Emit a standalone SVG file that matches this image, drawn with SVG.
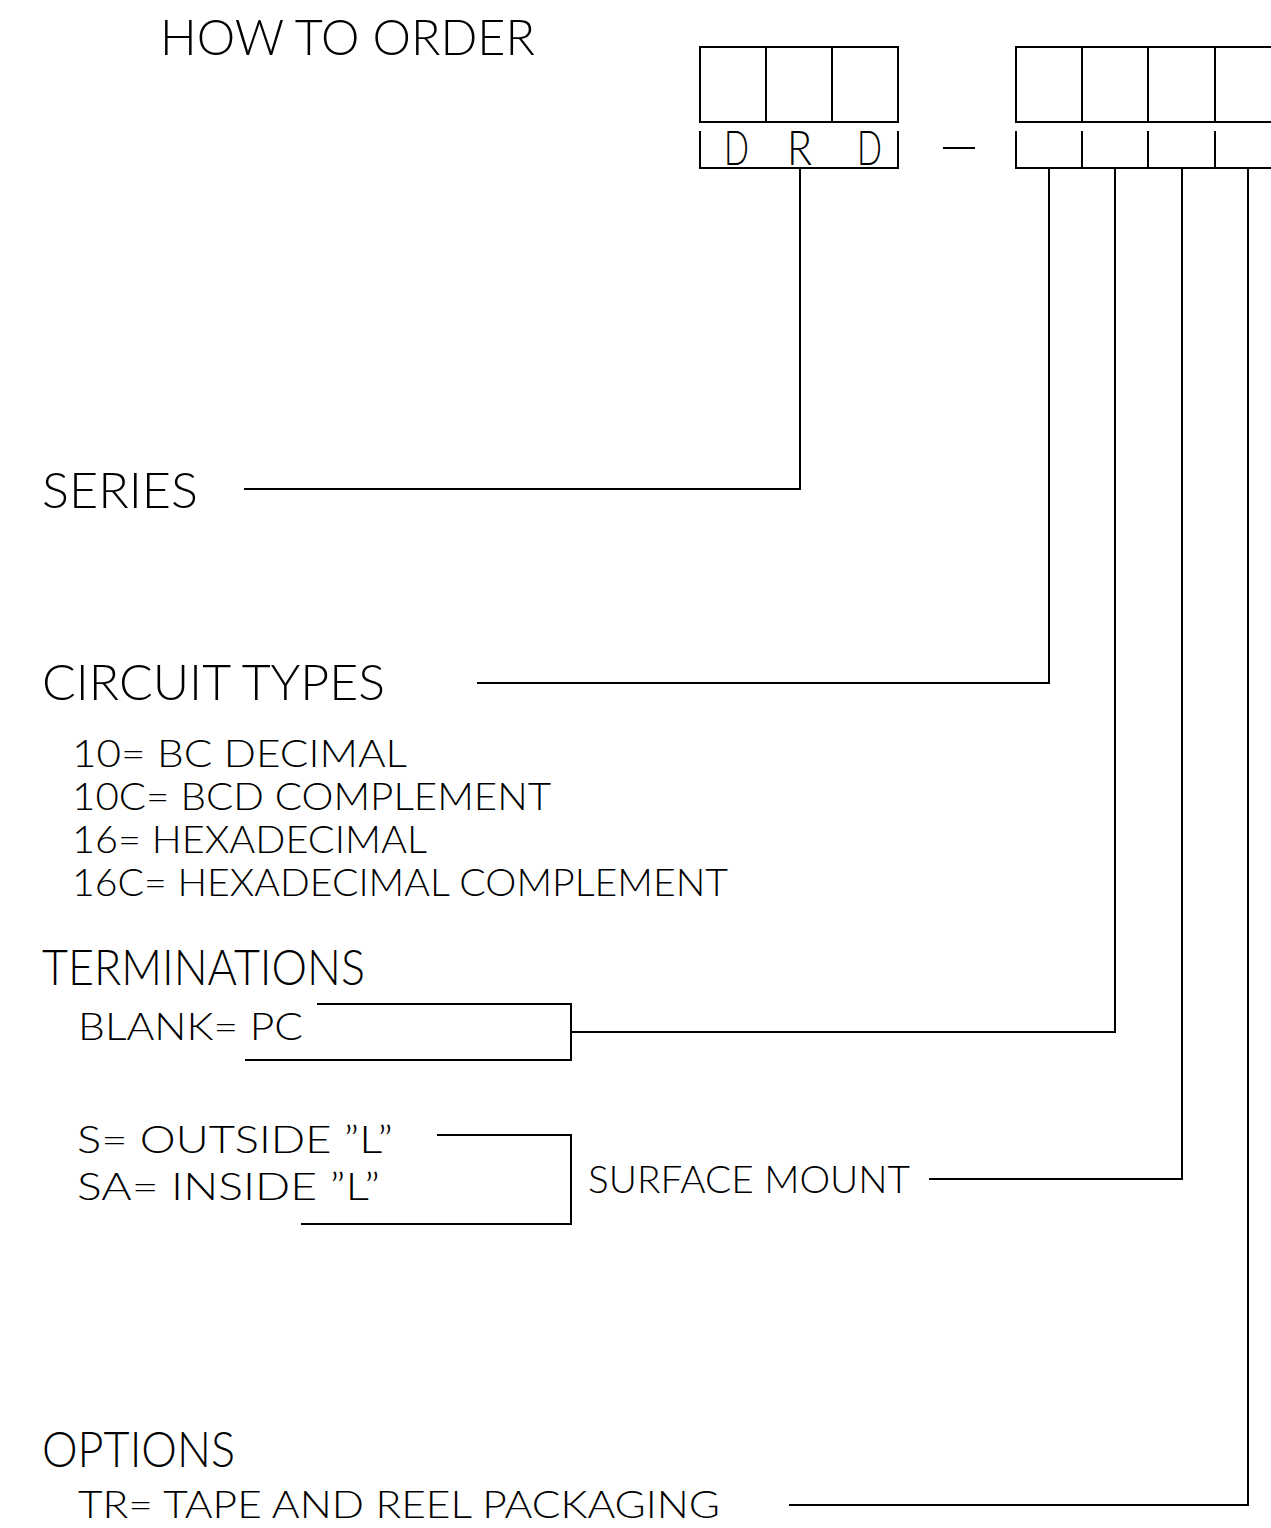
<svg xmlns="http://www.w3.org/2000/svg" width="1271" height="1528" viewBox="0 0 1271 1528">
<style>
.ln{stroke:#000;stroke-width:2;fill:none;stroke-linecap:square}
.t{font-family:Lato,"Liberation Sans",Arial,sans-serif;font-weight:300;fill:#000}
.big{font-size:49px}
.sm{font-size:38px}
</style>
<rect width="1271" height="1528" fill="#fff"/>
<g id="title"><text class="t big" x="160" y="55" textLength="375" lengthAdjust="spacingAndGlyphs">HOW TO ORDER</text></g>
<g id="series-box">
<path class="ln" d="M700,47H898V122H700Z M766,47V122 M832,47V122"/>
<path class="ln" d="M700,132V168H898V132"/>
<text class="t" font-size="47" x="724" y="165" textLength="25" lengthAdjust="spacingAndGlyphs">D</text>
<text class="t" font-size="47" x="787" y="165" textLength="25" lengthAdjust="spacingAndGlyphs">R</text>
<text class="t" font-size="47" x="857" y="165" textLength="25" lengthAdjust="spacingAndGlyphs">D</text>
</g>
<g id="dash"><path class="ln" d="M944,148H974"/></g>
<g id="code-box">
<path class="ln" d="M1271,47H1016V122H1271 M1082,47V122 M1148,47V122 M1215,47V122"/>
<path class="ln" d="M1016,132V168H1271 M1082,132V168 M1148,132V168 M1215,132V168"/>
</g>
<g id="series"><text class="t big" x="42" y="508" textLength="156" lengthAdjust="spacingAndGlyphs">SERIES</text></g>
<g id="circuit-types">
<text class="t big" x="42" y="700" textLength="343" lengthAdjust="spacingAndGlyphs">CIRCUIT TYPES</text>
<text class="t sm" x="72" y="767" textLength="335" lengthAdjust="spacingAndGlyphs">10= BC DECIMAL</text>
<text class="t sm" x="72" y="810" textLength="479" lengthAdjust="spacingAndGlyphs">10C= BCD COMPLEMENT</text>
<text class="t sm" x="72" y="853" textLength="355" lengthAdjust="spacingAndGlyphs">16= HEXADECIMAL</text>
<text class="t sm" x="72" y="896" textLength="656" lengthAdjust="spacingAndGlyphs">16C= HEXADECIMAL COMPLEMENT</text>
</g>
<g id="terminations">
<text class="t big" x="42" y="985" textLength="323" lengthAdjust="spacingAndGlyphs">TERMINATIONS</text>
<text class="t sm" x="78" y="1040" textLength="225" lengthAdjust="spacingAndGlyphs">BLANK= PC</text>
<text class="t sm" x="77" y="1153" textLength="316" lengthAdjust="spacingAndGlyphs">S= OUTSIDE ”L”</text>
<text class="t sm" x="77" y="1200" textLength="303" lengthAdjust="spacingAndGlyphs">SA= INSIDE ”L”</text>
<text class="t sm" x="588" y="1193" textLength="322" lengthAdjust="spacingAndGlyphs">SURFACE MOUNT</text>
</g>
<g id="options">
<text class="t big" x="42" y="1467" textLength="193" lengthAdjust="spacingAndGlyphs">OPTIONS</text>
<text class="t sm" x="78" y="1518" textLength="642" lengthAdjust="spacingAndGlyphs">TR= TAPE AND REEL PACKAGING</text>
</g>
<g id="connectors">
<path class="ln" d="M800,168V489H245"/>
<path class="ln" d="M1049,168V683H478"/>
<path class="ln" d="M318,1004H571V1060H246 M571,1032H1115V168"/>
<path class="ln" d="M438,1135H571V1224H302"/>
<path class="ln" d="M930,1179H1182V168"/>
<path class="ln" d="M790,1505H1248V168"/>
</g>
</svg>
